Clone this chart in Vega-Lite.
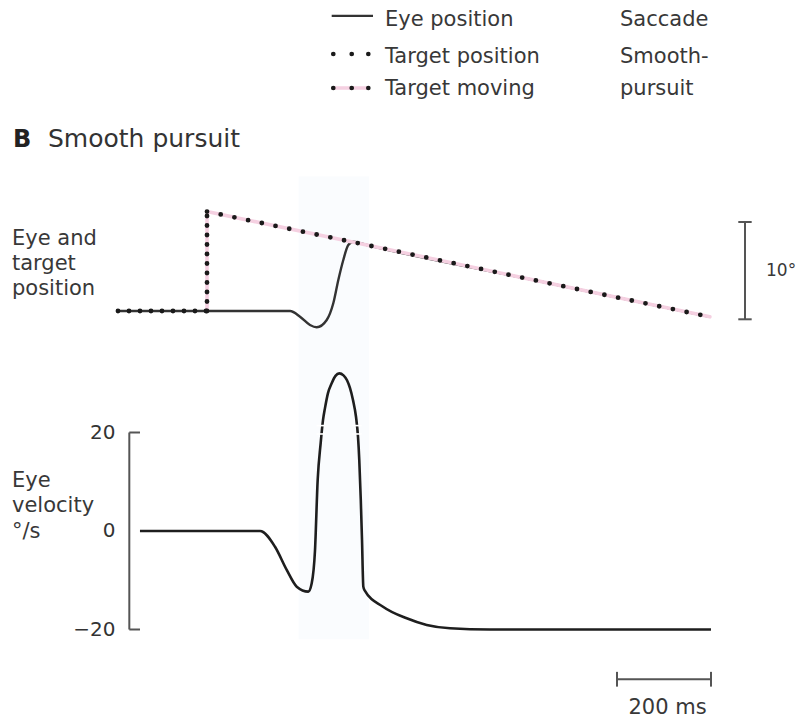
{
  "$schema": "https://vega.github.io/schema/vega-lite/v6.json",
  "width": 800,
  "height": 720,
  "padding": 0,
  "autosize": {"type": "fit", "contains": "padding"},
  "background": "white",
  "config": {"view": {"stroke": null}, "text": {"font": "DejaVu Sans"}},
  "datasets": {
    "eye": [
      {"t": -189.4, "p": 0}, {"t": 176.6, "p": 0}, {"t": 197.9, "p": -0.58}, {"t": 219.1, "p": -1.43},
      {"t": 233.4, "p": -1.67}, {"t": 254.7, "p": -0.92}, {"t": 268.7, "p": 0.79}, {"t": 279.4, "p": 3.18},
      {"t": 290, "p": 5.23}, {"t": 300.6, "p": 6.76}, {"t": 311.3, "p": 7.1}, {"t": 340, "p": 6.76},
      {"t": 700, "p": 3.13}, {"t": 1070, "p": -0.6}
    ],
    "target": [
      {"i": 0, "seg": "flat", "t": -189.4, "p": 0}, {"i": 1, "seg": "flat", "t": 0, "p": 0},
      {"i": 2, "seg": "jump", "t": 0, "p": 0}, {"i": 3, "seg": "jump", "t": 0, "p": 10.19},
      {"i": 4, "seg": "ramp", "t": 0, "p": 10.19}, {"i": 5, "seg": "ramp", "t": 1070, "p": -0.6}
    ],
    "targetPink": [
      {"i": 0, "t": 0, "p": 0}, {"i": 1, "t": 0, "p": 10.19}, {"i": 2, "t": 1070, "p": -0.6}
    ],
    "vel": [
      {"t": -142.6, "v": 0}, {"t": 112.8, "v": 0}, {"t": 144.7, "v": -3.2}, {"t": 169.6, "v": -7.9},
      {"t": 190.9, "v": -11.3}, {"t": 215.5, "v": -12.3}, {"t": 222.8, "v": -10.6}, {"t": 229.8, "v": -3.9},
      {"t": 235.5, "v": 10.4}, {"t": 241.9, "v": 17.9}, {"t": 246.8, "v": 22.5}, {"t": 251.1, "v": 25.0},
      {"t": 257.4, "v": 28.0}, {"t": 265.3, "v": 30.0}, {"t": 273.4, "v": 31.5}, {"t": 281.5, "v": 32.0},
      {"t": 290.4, "v": 31.6}, {"t": 297.9, "v": 30.6}, {"t": 304.3, "v": 29.0}, {"t": 310.6, "v": 26.6},
      {"t": 317.0, "v": 23.2}, {"t": 321.3, "v": 19.1}, {"t": 324.0, "v": 14.4}, {"t": 327.2, "v": 6.3},
      {"t": 329.8, "v": -1.8}, {"t": 332.6, "v": -11.3}, {"t": 335.1, "v": -12.0}, {"t": 374.5, "v": -15.37},
      {"t": 424.9, "v": -17.73}, {"t": 467.4, "v": -19.09}, {"t": 517, "v": -19.76}, {"t": 602, "v": -20},
      {"t": 1072.3, "v": -20}
    ],
    "velBreaks": [
      {"t1": 233, "t2": 252, "v1": 21.4, "v2": 21.4}, {"t1": 233, "t2": 252, "v1": 19.7, "v2": 19.7},
      {"t1": 309, "t2": 329, "v1": 21.4, "v2": 21.4}, {"t1": 309, "t2": 329, "v1": 19.7, "v2": 19.7}
    ],
    "velRules": [
      {"t1": -165.3, "t2": -165.3, "v1": -20, "v2": 20},
      {"t1": -165.3, "t2": -142.6, "v1": 20, "v2": 20},
      {"t1": -165.3, "t2": -142.6, "v1": -20, "v2": -20},
      {"t1": 872.3, "t2": 1072.3, "v1": -30.1, "v2": -30.1},
      {"t1": 872.3, "t2": 872.3, "v1": -28.6, "v2": -31.6},
      {"t1": 1072.3, "t2": 1072.3, "v1": -28.6, "v2": -31.6}
    ],
    "posRules": [
      {"t1": 1144.7, "t2": 1144.7, "p1": -0.85, "p2": 9.12},
      {"t1": 1130.4, "t2": 1158.9, "p1": 9.12, "p2": 9.12},
      {"t1": 1130.4, "t2": 1158.9, "p1": -0.85, "p2": -0.85}
    ],
    "shade": [{"t1": 195, "t2": 345, "v1": -22, "v2": 72}],
    "legendLine": [{"t": 265.3, "p": 30.23}, {"t": 353.2, "p": 30.23}],
    "legendPink": [{"t": 268.7, "p": 22.85}, {"t": 343.2, "p": 22.85}],
    "legendDots": [
      {"t": 268.7, "p": 26.33}, {"t": 307.9, "p": 26.33}, {"t": 343.2, "p": 26.33},
      {"t": 268.7, "p": 22.85}, {"t": 307.9, "p": 22.85}, {"t": 343.2, "p": 22.85}
    ],
    "posText": [
      {"t": 378.7, "p": 29.2, "label": "Eye position"},
      {"t": 378.7, "p": 25.41, "label": "Target position"},
      {"t": 378.7, "p": 22.13, "label": "Target moving"},
      {"t": 878.7, "p": 29.2, "label": "Saccade"},
      {"t": 878.7, "p": 25.41, "label": "Smooth-"},
      {"t": 878.7, "p": 22.13, "label": "pursuit"},
      {"t": -414.9, "p": 6.76, "label": "Eye and"},
      {"t": -414.9, "p": 4.2, "label": "target"},
      {"t": -414.9, "p": 1.64, "label": "position"}
    ],
    "titleB": [{"t": -412.8, "p": 16.8, "label": "B"}],
    "titleText": [{"t": -338.3, "p": 16.8, "label": "Smooth pursuit"}],
    "degText": [{"t": 1189.4, "p": 4.1, "label": "10°"}],
    "velText": [
      {"t": -414.9, "v": 8.93, "label": "Eye"},
      {"t": -414.9, "v": 3.86, "label": "velocity"},
      {"t": -414.9, "v": -1.42, "label": "°/s"}
    ],
    "msText": [{"t": 979.8, "v": -35.94, "label": "200 ms"}]
  },
  "layer": [
    {
      "layer": [
        {
          "data": {"name": "shade"},
          "mark": {"type": "rect", "color": "#fafcfe"},
          "encoding": {
            "x": {"field": "t1", "type": "quantitative", "scale": {"domain": [-440.43, 1261.7], "nice": false, "zero": false}, "axis": null},
            "x2": {"field": "t2"},
            "y": {"field": "v1", "type": "quantitative", "scale": {"domain": [-38.376, 107.817], "nice": false, "zero": false}, "axis": null},
            "y2": {"field": "v2"}
          }
        },
        {
          "data": {"name": "vel"},
          "mark": {"type": "line", "color": "#1e1e1e", "strokeWidth": 2.6, "interpolate": "monotone"},
          "encoding": {
            "x": {"field": "t", "type": "quantitative", "scale": {"domain": [-440.43, 1261.7], "nice": false, "zero": false}, "axis": null},
            "y": {"field": "v", "type": "quantitative", "scale": {"domain": [-38.376, 107.817], "nice": false, "zero": false},
              "axis": {"orient": "left", "offset": -130, "values": [-20, 0, 20], "domain": false, "ticks": false, "grid": false,
                "labelPadding": 15, "labelFont": "DejaVu Sans", "labelFontSize": 20, "labelColor": "#333333", "title": null,
                "labelOverlap": false, "labelFlush": false}}
          }
        },
        {
          "data": {"name": "velBreaks"},
          "mark": {"type": "rule", "color": "white", "strokeWidth": 1.6},
          "encoding": {
            "x": {"field": "t1", "type": "quantitative", "scale": {"domain": [-440.43, 1261.7], "nice": false, "zero": false}, "axis": null},
            "x2": {"field": "t2"},
            "y": {"field": "v1", "type": "quantitative", "scale": {"domain": [-38.376, 107.817], "nice": false, "zero": false}, "axis": null},
            "y2": {"field": "v2"}
          }
        },
        {
          "data": {"name": "velRules"},
          "mark": {"type": "rule", "color": "#555555", "strokeWidth": 2},
          "encoding": {
            "x": {"field": "t1", "type": "quantitative", "scale": {"domain": [-440.43, 1261.7], "nice": false, "zero": false}, "axis": null},
            "x2": {"field": "t2"},
            "y": {"field": "v1", "type": "quantitative", "scale": {"domain": [-38.376, 107.817], "nice": false, "zero": false}, "axis": null},
            "y2": {"field": "v2"}
          }
        },
        {
          "data": {"name": "velText"},
          "mark": {"type": "text", "align": "left", "baseline": "alphabetic", "font": "DejaVu Sans", "fontSize": 21, "color": "#383838"},
          "encoding": {
            "x": {"field": "t", "type": "quantitative", "scale": {"domain": [-440.43, 1261.7], "nice": false, "zero": false}, "axis": null},
            "y": {"field": "v", "type": "quantitative", "scale": {"domain": [-38.376, 107.817], "nice": false, "zero": false}, "axis": null},
            "text": {"field": "label"}
          }
        },
        {
          "data": {"name": "msText"},
          "mark": {"type": "text", "align": "center", "baseline": "middle", "font": "DejaVu Sans", "fontSize": 21, "color": "#383838"},
          "encoding": {
            "x": {"field": "t", "type": "quantitative", "scale": {"domain": [-440.43, 1261.7], "nice": false, "zero": false}, "axis": null},
            "y": {"field": "v", "type": "quantitative", "scale": {"domain": [-38.376, 107.817], "nice": false, "zero": false}, "axis": null},
            "text": {"field": "label"}
          }
        }
      ],
      "resolve": {"axis": {"y": "independent"}}
    },
    {
      "layer": [
        {
          "data": {"name": "eye"},
          "mark": {"type": "line", "color": "#333333", "strokeWidth": 2.4, "interpolate": "monotone"},
          "encoding": {
            "x": {"field": "t", "type": "quantitative", "scale": {"domain": [-440.43, 1261.7], "nice": false, "zero": false}, "axis": null},
            "y": {"field": "p", "type": "quantitative", "scale": {"domain": [-41.906, 31.865], "nice": false, "zero": false}, "axis": null}
          }
        },
        {
          "data": {"name": "targetPink"},
          "mark": {"type": "line", "color": "#f5d0e1", "strokeWidth": 3.6, "strokeCap": "round", "strokeJoin": "round"},
          "encoding": {
            "x": {"field": "t", "type": "quantitative", "scale": {"domain": [-440.43, 1261.7], "nice": false, "zero": false}, "axis": null},
            "y": {"field": "p", "type": "quantitative", "scale": {"domain": [-41.906, 31.865], "nice": false, "zero": false}, "axis": null},
            "order": {"field": "i"}
          }
        },
        {
          "data": {"name": "target"},
          "mark": {"type": "line", "color": "#1a1a1a", "strokeWidth": 4.8, "strokeCap": "round"},
          "encoding": {
            "x": {"field": "t", "type": "quantitative", "scale": {"domain": [-440.43, 1261.7], "nice": false, "zero": false}, "axis": null},
            "y": {"field": "p", "type": "quantitative", "scale": {"domain": [-41.906, 31.865], "nice": false, "zero": false}, "axis": null},
            "strokeDash": {"field": "seg", "type": "nominal", "scale": {"domain": ["flat", "jump", "ramp"], "range": [[0, 11], [0, 9.5], [0, 14]]}, "legend": null},
            "order": {"field": "i"}
          }
        },
        {
          "data": {"name": "legendLine"},
          "mark": {"type": "line", "color": "#333333", "strokeWidth": 2.2},
          "encoding": {
            "x": {"field": "t", "type": "quantitative", "scale": {"domain": [-440.43, 1261.7], "nice": false, "zero": false}, "axis": null},
            "y": {"field": "p", "type": "quantitative", "scale": {"domain": [-41.906, 31.865], "nice": false, "zero": false}, "axis": null}
          }
        },
        {
          "data": {"name": "legendPink"},
          "mark": {"type": "line", "color": "#f5d0e1", "strokeWidth": 3.6, "strokeCap": "round"},
          "encoding": {
            "x": {"field": "t", "type": "quantitative", "scale": {"domain": [-440.43, 1261.7], "nice": false, "zero": false}, "axis": null},
            "y": {"field": "p", "type": "quantitative", "scale": {"domain": [-41.906, 31.865], "nice": false, "zero": false}, "axis": null}
          }
        },
        {
          "data": {"name": "legendDots"},
          "mark": {"type": "point", "filled": true, "color": "#1a1a1a", "size": 22, "opacity": 1},
          "encoding": {
            "x": {"field": "t", "type": "quantitative", "scale": {"domain": [-440.43, 1261.7], "nice": false, "zero": false}, "axis": null},
            "y": {"field": "p", "type": "quantitative", "scale": {"domain": [-41.906, 31.865], "nice": false, "zero": false}, "axis": null}
          }
        },
        {
          "data": {"name": "posRules"},
          "mark": {"type": "rule", "color": "#555555", "strokeWidth": 2},
          "encoding": {
            "x": {"field": "t1", "type": "quantitative", "scale": {"domain": [-440.43, 1261.7], "nice": false, "zero": false}, "axis": null},
            "x2": {"field": "t2"},
            "y": {"field": "p1", "type": "quantitative", "scale": {"domain": [-41.906, 31.865], "nice": false, "zero": false}, "axis": null},
            "y2": {"field": "p2"}
          }
        },
        {
          "data": {"name": "posText"},
          "mark": {"type": "text", "align": "left", "baseline": "alphabetic", "font": "DejaVu Sans", "fontSize": 21, "color": "#383838"},
          "encoding": {
            "x": {"field": "t", "type": "quantitative", "scale": {"domain": [-440.43, 1261.7], "nice": false, "zero": false}, "axis": null},
            "y": {"field": "p", "type": "quantitative", "scale": {"domain": [-41.906, 31.865], "nice": false, "zero": false}, "axis": null},
            "text": {"field": "label"}
          }
        },
        {
          "data": {"name": "titleB"},
          "mark": {"type": "text", "align": "left", "baseline": "alphabetic", "font": "DejaVu Sans", "fontSize": 24, "fontWeight": "bold", "color": "#222222"},
          "encoding": {
            "x": {"field": "t", "type": "quantitative", "scale": {"domain": [-440.43, 1261.7], "nice": false, "zero": false}, "axis": null},
            "y": {"field": "p", "type": "quantitative", "scale": {"domain": [-41.906, 31.865], "nice": false, "zero": false}, "axis": null},
            "text": {"field": "label"}
          }
        },
        {
          "data": {"name": "titleText"},
          "mark": {"type": "text", "align": "left", "baseline": "alphabetic", "font": "DejaVu Sans", "fontSize": 25, "color": "#333333"},
          "encoding": {
            "x": {"field": "t", "type": "quantitative", "scale": {"domain": [-440.43, 1261.7], "nice": false, "zero": false}, "axis": null},
            "y": {"field": "p", "type": "quantitative", "scale": {"domain": [-41.906, 31.865], "nice": false, "zero": false}, "axis": null},
            "text": {"field": "label"}
          }
        },
        {
          "data": {"name": "degText"},
          "mark": {"type": "text", "align": "left", "baseline": "middle", "font": "DejaVu Sans", "fontSize": 17, "color": "#383838"},
          "encoding": {
            "x": {"field": "t", "type": "quantitative", "scale": {"domain": [-440.43, 1261.7], "nice": false, "zero": false}, "axis": null},
            "y": {"field": "p", "type": "quantitative", "scale": {"domain": [-41.906, 31.865], "nice": false, "zero": false}, "axis": null},
            "text": {"field": "label"}
          }
        }
      ]
    }
  ],
  "resolve": {"scale": {"y": "independent"}}
}
